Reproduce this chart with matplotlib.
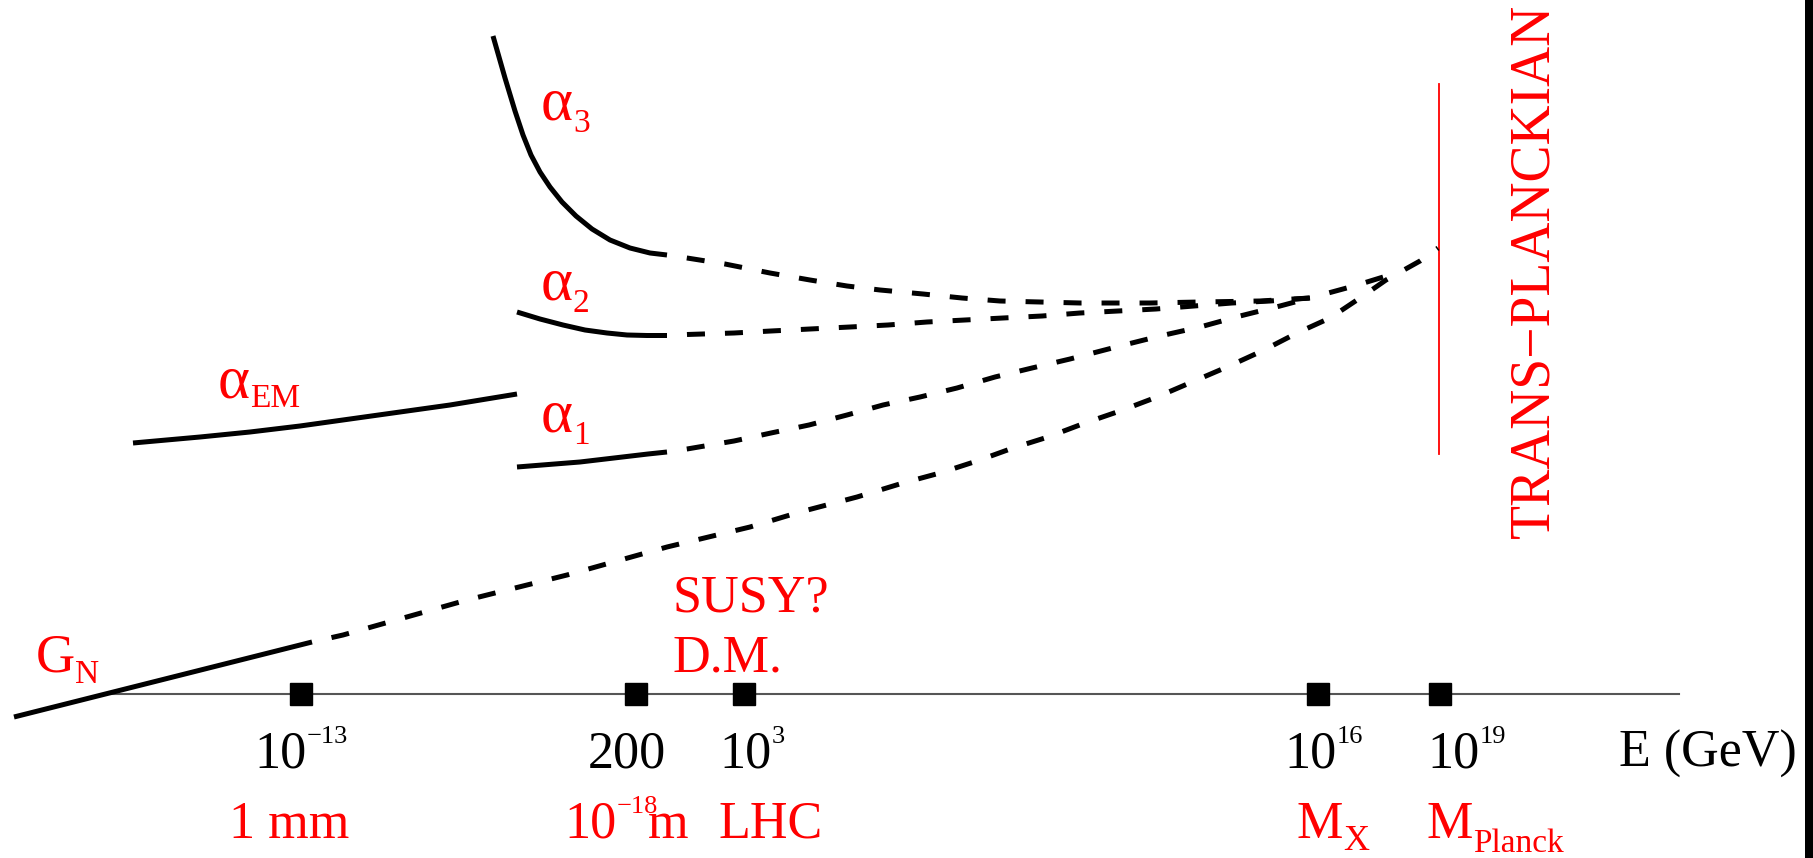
import matplotlib
matplotlib.use("Agg")
import matplotlib.pyplot as plt
from matplotlib.transforms import offset_copy

plt.rcParams["font.family"] = ["Liberation Serif", "DejaVu Serif"]

# Schematic energy axis: positions of the marked scales (not proportional to log E)
scale_pos = [30.1, 63.6, 74.4, 131.8, 144.0]
axis_start, axis_end = 11.1, 167.9

# Running couplings (height above the energy axis, arbitrary units)
aem_x = [13.3, 20.0, 25.0, 30.0, 35.0, 40.0, 45.0, 51.7]
aem_y = [25.1, 25.7, 26.2, 26.8, 27.5, 28.2, 28.9, 30.0]

a3_x = [49.3, 50.5, 51.5, 52.3, 53.1, 54.0, 55.0, 56.2, 57.6, 59.2, 61.0,
        63.0, 65.0, 66.7]
a3_y = [65.8, 61.6, 58.3, 55.9, 53.9, 52.2, 50.7, 49.2, 47.8, 46.5, 45.4,
        44.6, 44.1, 43.9]
a3_ext_x = [66.7, 68.7, 72.5, 77.0, 81.0, 84.7, 88.0, 92.3, 96.2, 100.0, 104.0,
            108.0, 115.0, 120.0, 126.0, 131.0]
a3_ext_y = [43.9, 43.6, 43.0, 42.1, 41.4, 40.8, 40.4, 40.0, 39.6, 39.3, 39.2,
            39.1, 39.1, 39.2, 39.3, 39.6]

a2_x = [51.7, 54.0, 56.3, 58.5, 60.7, 62.7, 64.7, 66.7]
a2_y = [38.2, 37.5, 36.9, 36.4, 36.1, 35.9, 35.85, 35.85]
a2_ext_x = [66.7, 68.7, 73.4, 77.1, 81.0, 85.0, 88.8, 92.7, 96.5, 100.3, 104.2,
            108.0, 111.8, 115.6, 119.4, 123.2, 127.0, 131.0]
a2_ext_y = [35.85, 35.95, 36.1, 36.3, 36.5, 36.7, 36.9, 37.2, 37.4, 37.6, 37.8,
            38.1, 38.3, 38.5, 38.8, 39.1, 39.3, 39.6]

a1_x = [51.7, 58.0, 64.8, 66.7]
a1_y = [22.7, 23.2, 24.0, 24.2]
a1_ext_x = [66.7, 68.7, 73.4, 77.1, 80.9, 84.7, 88.3, 92.0, 95.7, 99.5, 103.2,
            107.0, 112.0, 116.0, 120.0, 124.0, 128.0, 131.0]
a1_ext_y = [24.2, 24.5, 25.3, 26.1, 26.9, 27.9, 28.9, 29.7, 30.6, 31.7, 32.6,
            33.5, 34.8, 35.8, 36.7, 37.8, 38.8, 39.6]

unified_x = [131.0, 135.4, 139.3]
unified_y = [39.6, 40.8, 42.0]

gn_x = [1.4, 31.2]
gn_y = [-2.3, 5.2]
gn_ext_x = [31.2, 34.3, 46.7, 56.7, 66.7, 75.0, 80.0, 85.7, 90.3, 94.0, 97.7,
            101.3, 104.8, 108.5, 112.0, 115.7, 119.2, 122.7, 126.2, 129.7, 133.0,
            136.3, 138.6, 142.0, 143.8]
gn_ext_y = [5.2, 5.9, 9.4, 11.9, 14.7, 16.7, 18.2, 19.7, 21.1, 22.1, 23.3,
            24.6, 25.7, 27.1, 28.3, 29.7, 31.2, 32.7, 34.3, 36.1, 37.6,
            39.8, 41.4, 43.3, 44.6]

# Planck wall
planck_x = 143.9
planck_y = (24.0, 61.0)

RED = "#ff0000"
BIG = 37.5
SMALL = 24

fig = plt.figure(figsize=(18.13, 8.58), dpi=100)
ax = fig.add_axes([0, 0, 1, 1])
ax.set_xlim(0, 181.3)
ax.set_ylim(-16.4, 69.4)
ax.axis("off")

# energy axis and scale markers
ax.plot([axis_start, axis_end], [0, 0], color="#555555", lw=1.5, zorder=1)
ax.plot(scale_pos, [0] * len(scale_pos), ls="none", marker="s", ms=16.5,
        color="black", zorder=3)

lw = 3.6
dash = (3.6, (3.6, 4.0))
for xs, ys in [(aem_x, aem_y), (a3_x, a3_y), (a2_x, a2_y), (a1_x, a1_y), (gn_x, gn_y)]:
    ax.plot(xs, ys, color="black", lw=lw, solid_capstyle="butt",
            solid_joinstyle="round", zorder=2)
for xs, ys in [(a3_ext_x, a3_ext_y), (a2_ext_x, a2_ext_y), (a1_ext_x, a1_ext_y),
               (unified_x, unified_y), (gn_ext_x, gn_ext_y)]:
    ax.plot(xs, ys, color="black", lw=lw, ls=dash, dash_capstyle="butt", zorder=2)

ax.plot([planck_x, planck_x], planck_y, color=RED, lw=1.3, zorder=1)

# frame strip at right edge
ax.axvspan(180.5, 181.3, color="black", lw=0)

renderer = fig.canvas.get_renderer()


def label(x, y, base, script=None, shift=0.0, size=BIG, script_size=SMALL,
          color="black"):
    t = ax.text(x, y, base, fontsize=size, color=color, ha="left", va="baseline")
    if script:
        bb = t.get_window_extent(renderer)
        x0 = ax.transData.transform((x, y))[0]
        tr = offset_copy(ax.transData, fig=fig, x=bb.x1 - x0, y=shift, units="dots")
        ax.text(x, y, script, transform=tr, fontsize=script_size, color=color,
                ha="left", va="baseline")


# energy values
label(25.4, -7.3, "10", "\u221213", shift=24, script_size=19)
label(58.8, -7.3, "200")
label(71.9, -7.3, "10", "3", shift=24, script_size=19)
label(128.4, -7.3, "10", "16", shift=24, script_size=19)
label(142.7, -7.3, "10", "19", shift=24, script_size=19)
label(161.9, -7.3, "E (GeV)")

# physical scales
label(22.9, -14.4, "1 mm", color=RED)
label(56.4, -14.4, "10", "\u221218", shift=25, script_size=19, color=RED)
label(64.8, -14.4, "m", color=RED)
label(71.9, -14.4, "LHC", color=RED)
label(129.7, -14.4, "M", "X", shift=-12, size=BIG, script_size=26, color=RED)
label(142.7, -14.4, "M", "Planck", shift=-14, size=BIG, script_size=24, color=RED)

label(67.3, 8.2, "SUSY?", color=RED)
label(67.2, 2.3, "D.M.", color=RED)

# coupling names
label(3.6, 2.2, "G", "N", shift=-11, size=39, color=RED)
label(21.8, 29.7, "\u03b1", "EM", shift=-10, size=44, color=RED)
label(54.1, 57.4, "\u03b1", "3", shift=-12, size=44, color=RED)
label(54.1, 39.4, "\u03b1", "2", shift=-12, size=44, color=RED)
label(54.1, 26.2, "\u03b1", "1", shift=-12, size=44, color=RED)

ax.text(154.8, 15.6, "TRANS\u2212PLANCKIAN", rotation=90, rotation_mode="anchor",
        ha="left", va="baseline", fontsize=40, color=RED)

fig.savefig("out.png", dpi=100)
